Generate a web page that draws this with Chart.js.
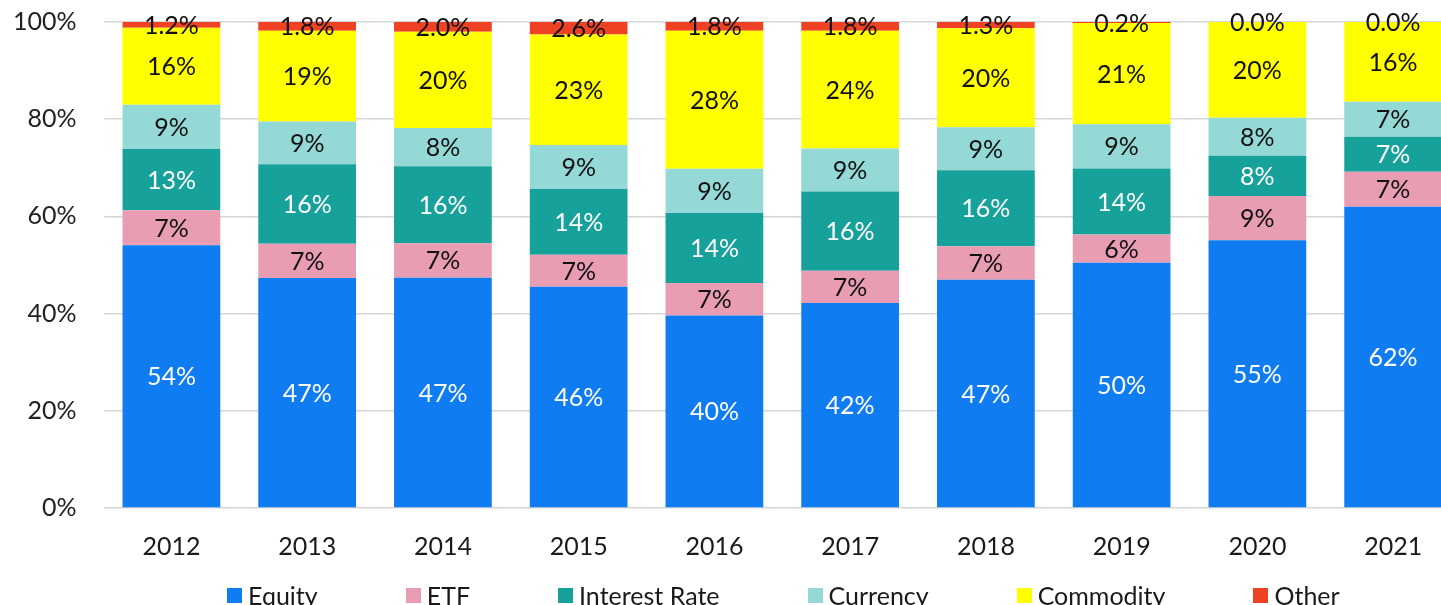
<!DOCTYPE html>
<html lang="en">
<head>
    <meta charset="UTF-8">
    <title>Share by product</title>
    <script src="https://cdn.jsdelivr.net/npm/chart.js"></script>
    <style>
        html, body { margin: 0; padding: 0; overflow: hidden; background: #fff; }
        #wrap { position: relative; width: 1441px; height: 605px; overflow: hidden; }
        canvas { display: block; position: absolute; left: -14px; top: -20px; }
        #legend {
            position: absolute; left: 227px; top: 580px; height: 30px;
            display: flex; align-items: center;
            font-family: Lato, sans-serif; font-size: 25px; color: #1a1a1a;
            white-space: nowrap;
        }
        #legend .item { display: flex; align-items: center; margin-right: 88px; }
        #legend .box { width: 15px; height: 15px; margin-right: 6px; }
    </style>
</head>
<body>
<div id="wrap">
    <canvas id="shareChart" width="1475" height="625"></canvas>
    <div id="legend"></div>
</div>
<script>
    // data (percent of total per year)
    const years = ['2012', '2013', '2014', '2015', '2016', '2017', '2018', '2019', '2020', '2021'];
    const equity = [54.0, 47.2, 47.4, 45.7, 39.6, 42.1, 46.8, 50.4, 55.1, 62.0];
    const etf = [7.2, 7.0, 7.1, 6.6, 6.7, 6.6, 6.9, 5.8, 9.1, 7.2];
    const interestRate = [12.6, 16.3, 15.8, 13.6, 14.4, 16.3, 15.6, 13.6, 8.3, 7.2];
    const currency = [9.1, 8.8, 7.9, 9.1, 9.1, 8.8, 8.8, 9.1, 7.8, 7.2];
    const commodity = [15.8, 18.6, 19.8, 22.8, 28.4, 24.2, 20.3, 20.8, 19.7, 16.4];
    const other = [1.2, 1.8, 2.0, 2.6, 1.8, 1.8, 1.3, 0.2, 0.0, 0.0];
    const yTicks = [0, 20, 40, 60, 80, 100];

    const series = [
        { name: 'Equity', values: equity, color: '#0f7cf1', text: '#ffffff', decimals: 0 },
        { name: 'ETF', values: etf, color: '#e99db3', text: '#111111', decimals: 0 },
        { name: 'Interest Rate', values: interestRate, color: '#17a19b', text: '#ffffff', decimals: 0 },
        { name: 'Currency', values: currency, color: '#95d9d7', text: '#111111', decimals: 0 },
        { name: 'Commodity', values: commodity, color: '#ffff00', text: '#111111', decimals: 0 },
        { name: 'Other', values: other, color: '#ef4124', text: '#111111', decimals: 1 }
    ];

    // 100% stacked: each year scaled to its own total
    const totals = years.map((y, i) => series.reduce((s, d) => s + d.values[i], 0));

    Chart.defaults.font.family = 'Lato, sans-serif';
    Chart.defaults.font.size = 25;
    Chart.defaults.color = '#1a1a1a';

    // labels in the middle of every segment
    const segmentLabels = {
        id: 'segmentLabels',
        afterDatasetsDraw(chart) {
            const ctx = chart.ctx;
            ctx.save();
            ctx.font = '25px Lato, sans-serif';
            ctx.textAlign = 'center';
            ctx.textBaseline = 'middle';
            chart.data.datasets.forEach((ds, di) => {
                const s = series[di];
                chart.getDatasetMeta(di).data.forEach((bar, i) => {
                    const p = bar.getProps(['x', 'y', 'base'], true);
                    const v = s.values[i];
                    const txt = (s.decimals ? v.toFixed(1) : Math.round(v)) + '%';
                    ctx.fillStyle = s.text;
                    ctx.fillText(txt, p.x, (p.y + p.base) / 2 + 1);
                });
            });
            ctx.restore();
        }
    };

    const ctx = document.getElementById('shareChart').getContext('2d');
    const chart = new Chart(ctx, {
        type: 'bar',
        data: {
            labels: years,
            datasets: series.map(s => ({
                label: s.name,
                data: s.values.map((v, i) => v / totals[i] * 100),
                backgroundColor: s.color,
                borderWidth: 0,
                categoryPercentage: 1,
                barPercentage: 0.72
            }))
        },
        options: {
            responsive: false,
            animation: false,
            layout: { padding: { left: 0, right: 0, top: 4, bottom: 19 } },
            plugins: {
                legend: { display: false },
                tooltip: { enabled: false }
            },
            scales: {
                x: {
                    stacked: true,
                    grid: { display: false, drawTicks: false },
                    border: { display: false },
                    ticks: { padding: 24, color: '#1a1a1a' }
                },
                y: {
                    stacked: true,
                    min: 0,
                    max: 100,
                    afterBuildTicks: axis => { axis.ticks = yTicks.map(v => ({ value: v })); },
                    grid: { color: '#d6d6d6', lineWidth: 1.5, drawTicks: false },
                    border: { display: false },
                    ticks: { padding: 27, color: '#222222', callback: v => v + '%' }
                }
            }
        },
        plugins: [segmentLabels]
    });

    // legend drawn as plain html under the chart
    const legend = document.getElementById('legend');
    series.forEach(s => {
        const item = document.createElement('div');
        item.className = 'item';
        const box = document.createElement('span');
        box.className = 'box';
        box.style.background = s.color;
        const label = document.createElement('span');
        label.textContent = s.name;
        item.appendChild(box);
        item.appendChild(label);
        legend.appendChild(item);
    });
</script>
</body>
</html>
